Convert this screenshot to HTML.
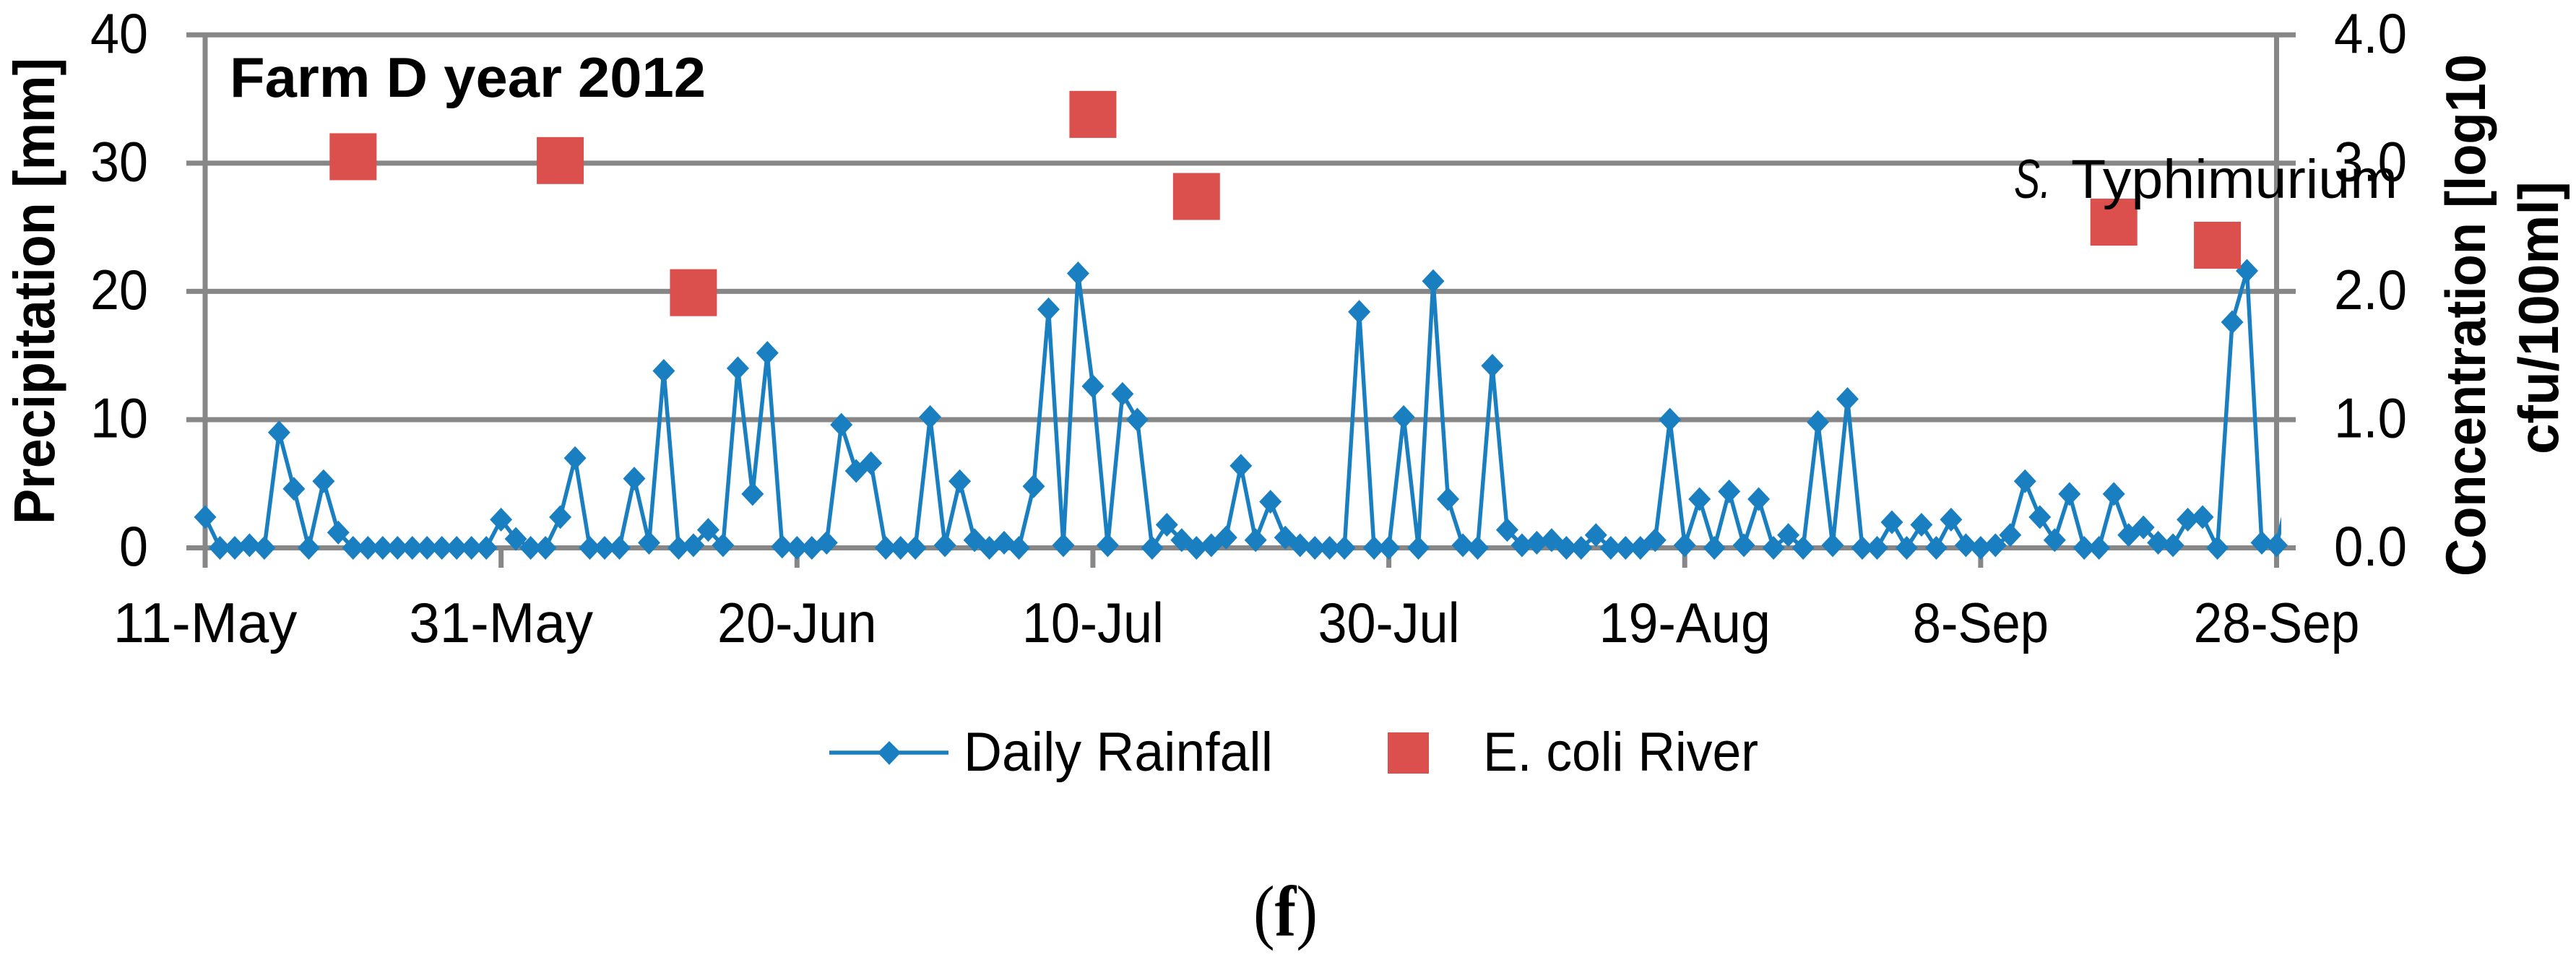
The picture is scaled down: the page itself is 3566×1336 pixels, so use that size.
<!DOCTYPE html>
<html lang="en">
<head>
<meta charset="utf-8">
<title>Farm D year 2012</title>
<style>
  html, body { margin: 0; padding: 0; background: #fff; }
  #chart { display: block; width: 3566px; height: 1336px; font-family: "Liberation Sans", sans-serif; }
  text { fill: #000; }
</style>
</head>
<body>
<svg id="chart" xmlns="http://www.w3.org/2000/svg" width="3566" height="1336" viewBox="0 0 3566 1336">
  <rect x="0" y="0" width="3566" height="1336" fill="#ffffff"/>
  <defs>
    <clipPath id="plot-clip"><rect x="250" y="40" width="2908" height="760"/></clipPath>
  </defs>
  <g id="grid"></g>
  <g id="axes"></g>
  <g id="rain-series"></g>
  <g id="ecoli-series"></g>
  <g id="labels"></g>

  <text x="318" y="134" font-size="78" font-weight="700" textLength="659" lengthAdjust="spacingAndGlyphs">Farm D year 2012</text>
  <text transform="translate(75,726) rotate(-90)" font-size="80" font-weight="700" textLength="646" lengthAdjust="spacingAndGlyphs">Precipitation [mm]</text>
  <text transform="translate(3440,798) rotate(-90)" font-size="78" font-weight="700" textLength="723" lengthAdjust="spacingAndGlyphs">Concentration [log10</text>
  <text transform="translate(3541,629) rotate(-90)" font-size="78" font-weight="700" textLength="378" lengthAdjust="spacingAndGlyphs">cfu/100ml]</text>
  <text x="2788" y="274" font-size="76" font-style="italic" textLength="51" lengthAdjust="spacingAndGlyphs">S.</text>
  <text x="2867" y="274" font-size="76" textLength="452" lengthAdjust="spacingAndGlyphs">Typhimurium</text>

  <g>
    <line x1="1148" y1="1042" x2="1313" y2="1042" stroke="#1a7fc1" stroke-width="5.5"/>
    <path d="M1231 1026 L1247 1042 L1231 1059 L1215 1042 Z" fill="#1a7fc1"/>
    <text x="1334" y="1067" font-size="76" textLength="428" lengthAdjust="spacingAndGlyphs">Daily Rainfall</text>
    <rect x="1921" y="1014" width="57" height="57" fill="#db4f4c"/>
    <text x="2053" y="1067" font-size="76" textLength="381" lengthAdjust="spacingAndGlyphs">E. coli River</text>
  </g>
  <text x="1735" y="1295" font-size="100" textLength="89" lengthAdjust="spacingAndGlyphs" style="font-family:'Liberation Serif',serif">(<tspan font-weight="700">f</tspan>)</text>
</svg>

<script>
const startDate = '2012-05-11';
const endDate = '2012-09-28';
const rainfall = [
  2.4,0,0,0.2,0,9.0,4.6,0,5.2,1.2,
  0,0,0,0,0,0,0,0,0,0,
  2.2,0.7,0,0,2.4,7.0,0,0,0,5.4,
  0.4,13.8,0,0.2,1.4,0.2,14.0,4.2,15.2,0.1,
  0,0,0.4,9.6,6.0,6.6,0,0,0,10.2,
  0.2,5.2,0.6,0,0.4,0,4.8,18.6,0.2,21.4,
  12.6,0.2,12.0,10.0,0,1.8,0.6,0,0.2,0.8,
  6.4,0.6,3.6,0.8,0.2,0,0,0,18.4,0,
  0,10.2,0,20.8,3.8,0.2,0,14.2,1.4,0.2,
  0.4,0.6,0,0,1.0,0,0,0,0.6,10.0,
  0.2,3.8,0,4.4,0.2,3.8,0,1.0,0,9.8,
  0.2,11.6,0,0,2.0,0,1.8,0,2.2,0.2,
  0,0.2,1.0,5.2,2.4,0.6,4.2,0,0,4.2,
  1.0,1.6,0.4,0.2,2.2,2.4,0,17.6,21.6,0.4,
  0.2,5.2
];
const ecoliDates = ['2012-05-21','2012-06-04','2012-06-13','2012-07-10','2012-07-17','2012-09-17','2012-09-24'];
const ecoliValues = [3.05,3.02,1.99,3.38,2.74,2.54,2.36];
const xTickDates = ['2012-05-11','2012-05-31','2012-06-20','2012-07-10','2012-07-30','2012-08-19','2012-09-08','2012-09-28'];
const xTickLabels = ['11-May','31-May','20-Jun','10-Jul','30-Jul','19-Aug','8-Sep','28-Sep'];
const leftTicks = [0,10,20,30,40];
const rightTicks = ['0.0','1.0','2.0','3.0','4.0'];
const rightMax = 4;
const leftMax = 40;

const NS = 'http://www.w3.org/2000/svg';
const DAY = 86400000;
const plot = { left: 284, right: 3151.5, top: 48.3, bottom: 758.5 };
const dayCount = (Date.parse(endDate) - Date.parse(startDate)) / DAY;
function xDay(i) { return plot.left + (plot.right - plot.left) * i / dayCount; }
function xDate(d) { return xDay((Date.parse(d) - Date.parse(startDate)) / DAY); }
function yLeft(v) { return plot.bottom - (plot.bottom - plot.top) * v / leftMax; }
function yRight(v) { return plot.bottom - (plot.bottom - plot.top) * v / rightMax; }
function mk(tag, parent, attrs) {
  const el = document.createElementNS(NS, tag);
  for (const k in attrs) el.setAttribute(k, attrs[k]);
  parent.appendChild(el);
  return el;
}
/* glyph advances (em) of the narrower face the source chart used, for fitting tick label widths */
const ADV = { '-': .306, M: .855, a: .479, y: .453, J: .319, u: .525, n: .525, l: .229, A: .579, g: .471, S: .459, e: .498, p: .525 };
function fitWidth(label) {
  let w = 0;
  for (const c of String(label)) w += ADV[c] !== undefined ? ADV[c] : .507;
  return (w * 82).toFixed(1);
}
const AXIS = '#878787';
const gGrid = document.getElementById('grid');
const gAxes = document.getElementById('axes');
const gRain = document.getElementById('rain-series');
const gEcoli = document.getElementById('ecoli-series');
const gLabels = document.getElementById('labels');

leftTicks.forEach(function (t, k) {
  const y = yLeft(t);
  const ln = mk('line', gGrid, { x1: 258, x2: 3178, y1: y, y2: y, stroke: AXIS, 'stroke-width': 7 });
  
  
  const lab = mk('text', gLabels, { x: 205, y: y + 24.5, 'font-size': 78, 'text-anchor': 'end', textLength: String(t).length * 40, lengthAdjust: 'spacingAndGlyphs' });
  lab.textContent = t;
  
  
  const rlab = mk('text', gLabels, { x: 3231, y: y + 24.5, 'font-size': 78, textLength: 101, lengthAdjust: 'spacingAndGlyphs' });
  rlab.textContent = rightTicks[k];
  
  
});

const leftAxis = mk('line', gAxes, { x1: plot.left, x2: plot.left, y1: plot.top - 3, y2: 786, stroke: AXIS, 'stroke-width': 7 });


const rightAxis = mk('line', gAxes, { x1: plot.right, x2: plot.right, y1: plot.top - 3, y2: 786, stroke: AXIS, 'stroke-width': 7 });



xTickDates.forEach(function (d, k) {
  const x = xDate(d);
  const tick = mk('line', gAxes, { x1: x, x2: x, y1: plot.bottom, y2: 786, stroke: AXIS, 'stroke-width': 7 });
  
  
  const lab = mk('text', gLabels, { x: x, y: 889, 'font-size': 78, 'text-anchor': 'middle', textLength: fitWidth(xTickLabels[k]), lengthAdjust: 'spacingAndGlyphs' });
  lab.textContent = xTickLabels[k];
  
  
});

const rainLine = mk('polyline', gRain, {
  points: rainfall.map(function (v, i) { return xDay(i).toFixed(1) + ',' + yLeft(v).toFixed(1); }).join(' '),
  fill: 'none', stroke: '#1a7fc1', 'stroke-width': 5.5, 'stroke-linejoin': 'miter', 'clip-path': 'url(#plot-clip)'
});



rainfall.forEach(function (v, i) {
  if (i > dayCount) return;
  const x = xDay(i), y = yLeft(v);
  const m = mk('path', gRain, {
    d: 'M' + x.toFixed(1) + ' ' + (y - 16.5).toFixed(1) + 'L' + (x + 15.5).toFixed(1) + ' ' + y.toFixed(1) + 'L' + x.toFixed(1) + ' ' + (y + 16.5).toFixed(1) + 'L' + (x - 15.5).toFixed(1) + ' ' + y.toFixed(1) + 'Z',
    fill: '#1a7fc1'
  });
  
  
});

ecoliValues.forEach(function (v, i) {
  const x = xDate(ecoliDates[i]), y = yRight(v);
  const s = mk('rect', gEcoli, { x: x - 32.5, y: y - 32.5, width: 65, height: 65, fill: '#db4f4c' });
  
  
});
</script>
</body>
</html>
